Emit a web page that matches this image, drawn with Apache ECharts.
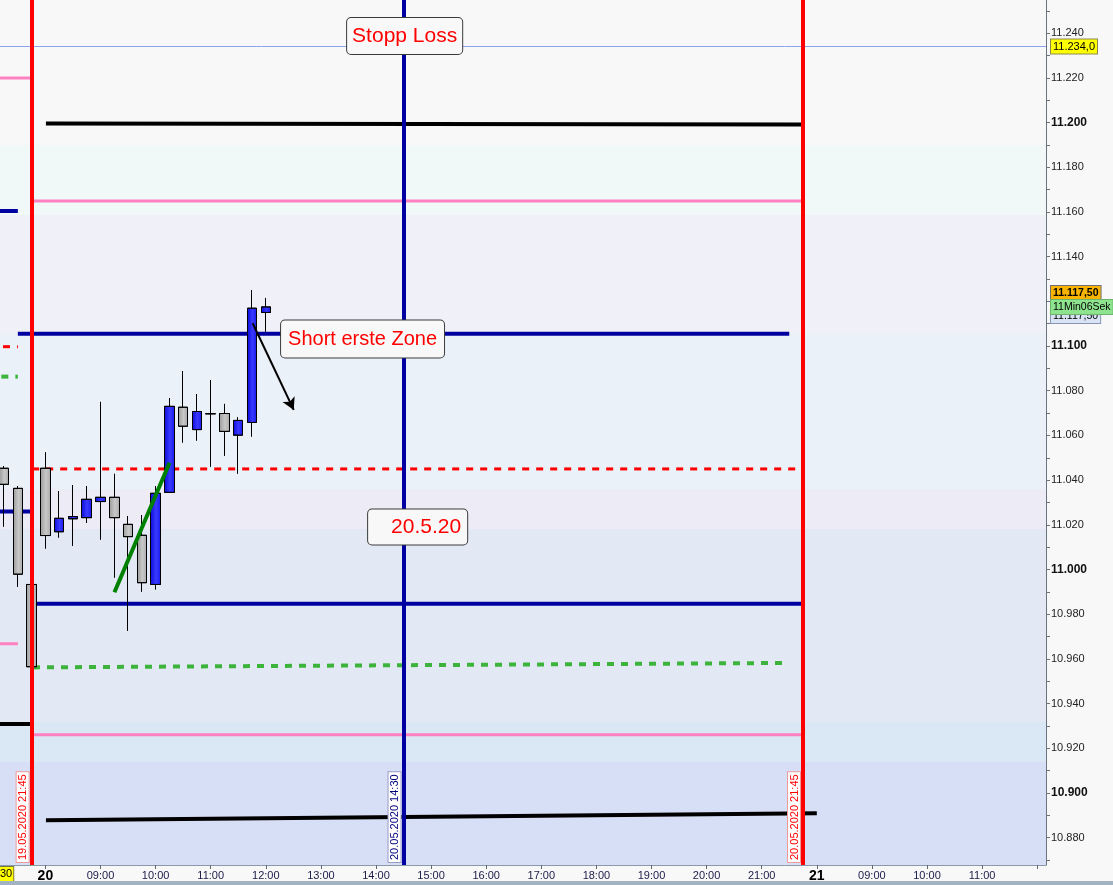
<!DOCTYPE html>
<html><head><meta charset="utf-8">
<script src="https://cdn.jsdelivr.net/npm/echarts@6/dist/echarts.min.js"></script>
<style>html,body{margin:0;padding:0;background:#f8f8f8;overflow:hidden}#c{width:1113px;height:885px}</style>
</head><body><div id="c"></div>
<script>
// x = trading-session hours counted from 20.05.2020 08:00 (session 08:00-22:00)
const candleHours = [-0.75,-0.5,-0.25,0,0.25,0.5,0.75,1,1.25,1.5,1.75,2,2.25,2.5,2.75,3,3.25,3.5,3.75,4];
const opens  = [11045.3,11036.3,10993.3,11045.3,11016.9,11022.7,11023.2,11030.4,11032.3,11020.2,11015.3,10993.3,11034.5,11072.6,11062.6,11069.7,11069.8,11060.1,11065.8,11115.0];
const closes = [11038.1,10997.9,10956.5,11015.2,11022.9,11023.7,11031.4,11032.3,11023.2,11014.7,10994.1,11034.1,11073.0,11064.1,11070.7,11069.7,11061.8,11066.7,11116.9,11117.5];
const lows   = [11019.2,10992.3,10956.0,11009.4,11014.3,11010.6,11020.9,11013.4,10996.4,10972.6,10990.1,10991.1,11034.5,11056.8,11057.7,11046.0,11050.9,11042.9,11059.5,11106.4];
const highs  = [11046.3,11037.3,10993.7,11052.4,11035.1,11037.8,11037.3,11075.0,11042.8,11023.9,11024.3,11037.3,11076.7,11088.8,11078.5,11084.7,11074.1,11068.1,11125.0,11121.5];

const xTickHours  = [0,1,2,3,4,5,6,7,8,9,10,11,12,13,14,15,16,17,18];
const xTickLabels = ['20','09:00','10:00','11:00','12:00','13:00','14:00','15:00','16:00','17:00','18:00','19:00','20:00','21:00','21','09:00','10:00','11:00',''];
const yLabelValues = [10880,10900,10920,10940,10960,10980,11000,11020,11040,11060,11080,11100,11120,11140,11160,11180,11200,11220,11240];
const yTickValues = [10870,10880,10890,10900,10910,10920,10930,10940,10950,10960,10970,10980,10990,11000,11010,11020,11030,11040,11050,11060,11070,11080,11090,11100,11110,11120,11130,11140,11150,11160,11170,11180,11190,11200,11210,11220,11230,11240,11250];

// drawn level lines: [[hStart, vStart],[hEnd, vEnd]]
const blackLevels = [[[0.01,11199.6],[13.73,11199.1]], [[-0.9,10930.9],[-0.28,10930.9]], [[0.01,10887.8],[14.0,10890.9]]];
const pinkLevels  = [[[-0.9,11219.9],[-0.28,11219.9]], [[-0.243,11164.9],[13.73,11164.9]], [[-0.9,10966.8],[-0.5,10966.8]], [[-0.243,10926.1],[13.73,10926.1]]];
const blueLevels  = [[[-0.9,11160.4],[-0.5,11160.4]], [[-0.5,11105.5],[13.5,11105.5]], [[-0.9,11025.9],[-0.28,11025.9]], [[-0.243,10984.7],[13.73,10984.7]]];
const redDashLevels   = [[[-0.77,11099.7],[-0.5,11099.7]], [[-0.24,11045.0],[13.73,11045.0]]];
const greenDashLevels = [[[-0.8,11086.3],[-0.5,11086.3]], [[-0.225,10956.2],[13.495,10958.2]]];
const trendLine = [[1.253,10989.8],[2.253,11047.8]];
const arrowLine = [[3.762,11110.2],[4.507,11071.4]];
const verticalTimes  = [-0.25, 6.5, 13.75];
const verticalLabels = ['19.05.2020 21:45','20.05.2020 14:30','20.05.2020 21:45'];
const refLevel = 11234;
const lastPrice = 11117.5;
const zoneBounds = [11254.81,11189.9,11158.6,11105.8,11036,11018.1,10931.8,10913.9,10867.79];
const annotations = [
  {text:'Stopp Loss', h:6.52, v:11238.7},
  {text:'Short erste Zone', h:5.756, v:11103.1},
  {text:'20.5.20', h:6.756, v:11019.0}
];

const zoneColors = ['#f8f8f8','#f0f8f8','#f0f0f8','#eaf1f8','#ecebf6','#e3e8f5','#dae7f5','#d7dff6'];
const verticalColors = ['#ff0000','#0000a0','#ff0000'];
const verticalLabelColors = ['#ff0000','#000080','#ff0000'];
const verticalBorderColors = ['#f09a9a','#9a9ac8','#f09a9a'];
const annotationPadding = {'Stopp Loss':[8,5,7,5], 'Short erste Zone':[9,7,8,7], '20.5.20':[7,6,7,23]};
const FONT = '"Liberation Sans", Arial, sans-serif';

const chart = echarts.init(document.getElementById('c'));

function segSeries(pts, color, width, type, z) {
  return {type:'line', data:pts, symbol:'none', silent:true, animation:false, z:z,
          lineStyle:{color:color, width:width, type:type, cap:'butt'}};
}
const series = [];
series.push({type:'line', data:[], silent:true, animation:false,
  markArea:{silent:true, z:0, data: zoneColors.map((c,i)=>[{yAxis:zoneBounds[i], itemStyle:{color:c}},{yAxis:zoneBounds[i+1]}])},
  markLine:{silent:true, symbol:['none','none'], animation:false, z:1, label:{show:false},
    lineStyle:{color:'#8aa4ee', width:1, type:'solid'}, data:[{yAxis:refLevel}]}
});
blackLevels.forEach(p=>series.push(segSeries(p,'#000000',4,'solid',2)));
pinkLevels.forEach(p=>series.push(segSeries(p,'#ff80c0',3,'solid',2)));
blueLevels.forEach(p=>series.push(segSeries(p,'#0000a0',4,'solid',2)));
redDashLevels.forEach(p=>series.push(segSeries(p,'#ff0000',3,[7,7],2)));
greenDashLevels.forEach(p=>series.push(segSeries(p,'#3cb43c',4,[7,7],2)));

series.push({
  type:'candlestick', z:3, animation:false, silent:true, barWidth:10,
  dimensions:['h','open','close','lowest','highest'],
  encode:{x:0, y:[1,2,3,4]},
  data: candleHours.map((h,i)=>[h, opens[i], closes[i], lows[i], highs[i]]),
  itemStyle:{
    color: new echarts.graphic.LinearGradient(0,0,1,0,[{offset:0,color:'#0a0ad8'},{offset:0.55,color:'#3a3aff'},{offset:1,color:'#1818ec'}]),
    color0: new echarts.graphic.LinearGradient(0,0,1,0,[{offset:0,color:'#9a9a9a'},{offset:0.55,color:'#c8c8c8'},{offset:1,color:'#a8a8a8'}]),
    borderColor:'#000', borderColor0:'#000', borderColorDoji:'#000', borderWidth:1
  }
});
series.push(segSeries(trendLine,'#008000',4,'solid',5));
series.push({type:'line', data:[], silent:true, animation:false, z:6,
  markLine:{silent:true, animation:false, symbol:['none','arrow'], symbolSize:[10,12], z:6,
    lineStyle:{color:'#000', width:2, type:'solid'}, label:{show:false},
    data:[[{coord:arrowLine[0]},{coord:arrowLine[1]}]]}
});
series.push({type:'line', data:[], silent:true, animation:false, z:7,
  markLine:{silent:true, animation:false, symbol:['none','none'], z:7,
    data: verticalTimes.map((t,i)=>({xAxis:t,
      lineStyle:{color:verticalColors[i], width:4, type:'solid'},
      label:{show:true, position:'insideStartTop', formatter:verticalLabels[i], distance:3,
        color:verticalLabelColors[i], fontSize:11, fontFamily:FONT,
        backgroundColor:'#ffffff', borderColor:verticalBorderColors[i], borderWidth:1, padding:[1,2,0,2]}
    }))}
});
series.push({type:'line', data:[], silent:true, animation:false, z:10,
  markPoint:{silent:true, animation:false, z:10, symbol:'rect', symbolSize:1, itemStyle:{color:'rgba(0,0,0,0)'},
    data: annotations.map(a=>({coord:[a.h,a.v], value:a.text,
      label:{show:true, position:'inside', formatter:a.text, color:'#ff0000', fontSize: a.text==='Short erste Zone'?20:21, fontFamily:FONT,
        backgroundColor:'#f8f8f8', borderColor:'#3a3a3a', borderWidth:1, borderRadius:4,
        padding: annotationPadding[a.text]}}))}
});

chart.setOption({
  animation:false,
  backgroundColor:'#f8f8f8',
  grid:{left:0, right:67, top:0, bottom:20, containLabel:false},
  xAxis:{type:'value', min:-0.824, max:18.16,
    axisLine:{show:true, onZero:false, lineStyle:{color:'#8a9aaa', width:1}},
    axisTick:{show:true, customValues:xTickHours, length:4, lineStyle:{color:'#606870'}},
    axisLabel:{customValues:xTickHours.slice(0,18), margin:5, fontSize:11, fontFamily:FONT, color:'#1a1a48',
      formatter:(v)=>{const i=xTickHours.indexOf(Math.round(v)); const t=xTickLabels[i]||''; return (t==='20'||t==='21')?'{d|'+t+'}':t;},
      rich:{d:{fontSize:14, fontWeight:'bold', color:'#000', fontFamily:FONT, lineHeight:13}}},
    splitLine:{show:false}},
  yAxis:{type:'value', position:'right', min:10867.79, max:11254.81, scale:true,
    axisLine:{show:true, onZero:false, lineStyle:{color:'#6a7480', width:1}},
    axisTick:{show:true, customValues:yTickValues, length:4, inside:false, lineStyle:{color:'#6a7480'}},
    axisLabel:{customValues:yLabelValues, margin:5, fontSize:11, fontFamily:FONT, color:'#222',
      formatter:(v)=>{const s=(v/1000).toFixed(3); return (Math.round(v)%100===0)?'{b|'+s+'}':s;},
      rich:{b:{fontSize:12, fontWeight:'bold', color:'#111', fontFamily:FONT}}},
    splitLine:{show:false}},
  series: series
});

// value boxes on the price scale
const xR = 1051;
const yRef = chart.convertToPixel({yAxisIndex:0}, refLevel);
const yLast = chart.convertToPixel({yAxisIndex:0}, lastPrice);
function box(y, text, bg, border, font, z) {
  return {type:'text', x:xR, y:y, z:z, silent:true,
    style:{text:text, fill:'#000', font:font+' '+FONT, verticalAlign:'middle', align:'left',
      backgroundColor:bg, borderColor:border, borderWidth:1, padding:[2,2,1,2]}};
}
chart.setOption({graphic:[
  box(yRef, '11.234,0', '#ffff00', '#8a8a50', '11px', 20),
  box(yLast+9, '11.117,50', '#d8e4f4', '#8a96b8', '10.5px', 20),
  box(yLast-14, '11.117,50', '#f8b400', '#707070', 'bold 10.5px', 21),
  box(yLast, '11Min06Sek', '#8ee48e', '#6cb46c', '10.5px', 22),
  {type:'text', x:-1, y:874, z:20, silent:true, style:{text:'30', fill:'#000', font:'11px '+FONT, verticalAlign:'middle',
     backgroundColor:'#ffff00', borderColor:'#7a7a40', borderWidth:1, padding:[2,1,1,1]}},
  {type:'rect', shape:{x:0, y:881, width:1113, height:4}, style:{fill:'#a2b4c2'}, z:20, silent:true}
]});
</script></body></html>
